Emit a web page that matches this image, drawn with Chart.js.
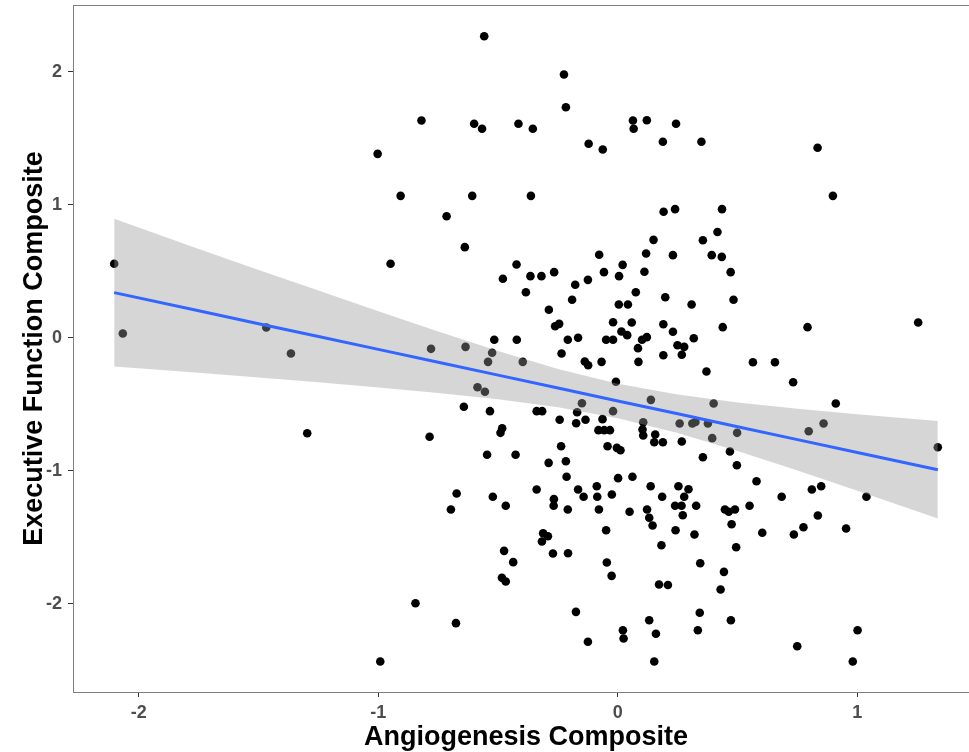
<!DOCTYPE html>
<html>
<head>
<meta charset="utf-8">
<script src="https://cdn.jsdelivr.net/npm/chart.js@4.4.1/dist/chart.umd.min.js"></script>
<style>
  html, body { margin: 0; padding: 0; background: #ffffff; overflow: hidden; }
  #wrap { width: 990px; height: 752px; }
</style>
</head>
<body>
<div id="wrap"><canvas id="c" width="990" height="752"></canvas></div>
<script>
// Angiogenesis composite (x) and executive function composite (y), one entry per participant
const angioX = [
  -2.103, -2.067, -1.468, -1.365, -1.297, -0.992, -1.003, -0.558, -0.225, -0.217,
  -0.820, -0.600, -0.567, -0.415, -0.355, 0.063, 0.066, 0.121, 0.188, -0.122,
  -0.063, -0.907, -0.715, -0.608, -0.363, 0.191, 0.243, 0.349, 0.834, 0.898,
  0.239, 0.435, 0.416,
  -0.949, -0.639, -0.423, -0.480, -0.365, -0.319, -0.266, -0.384, -0.288, -0.262,
  -0.245, -0.178, -0.125, -0.191, -0.078, -0.058, 0.020, 0.005, 0.111, 0.118,
  0.149, 0.075, 0.004, 0.042, 0.198, -0.020, 0.058, 0.015, 0.039, 0.190,
  -0.209, -0.166, -0.049, -0.020, 0.101, 0.121, 0.084, -0.235, -0.138, -0.124,
  -0.068, 0.086, 0.190, -0.516, -0.422, -0.780, -0.636, -0.525, -0.542, -0.397,
  -0.008, -0.586, -0.555, -0.150, 0.138, -0.020, -0.170, -0.643, -0.534, -0.339,
  -0.316, -0.243, -0.174, -0.135, -0.064, 0.106, 0.103, 0.106, -0.081, -0.057,
  -0.033, 0.156, 0.152, 0.188, -0.786, -0.483, -0.490, -0.237, -0.043, -0.004,
  0.011, -0.546, -0.427,
  0.355, 0.230, 0.392, 0.434, 0.471, 0.308, 0.483, 0.230, 0.438, 0.317,
  0.249, 0.277, 0.267, 0.370, 0.792, 1.254, 0.564, 0.656, 0.732, 0.910,
  0.400, 0.258, 0.311, 0.324, 0.376, 0.394, 0.498, 0.797, 0.859, 1.336,
  0.267, 0.468,
  -0.289, -0.217, -0.214, 0.001, 0.061, -0.673, -0.697, -0.522, -0.468, -0.339,
  -0.267, -0.268, -0.209, -0.166, -0.143, -0.088, -0.086, -0.079, -0.025, 0.049,
  0.137, 0.185, 0.122, 0.131, 0.145, -0.049, -0.312, -0.292, -0.317, -0.271,
  -0.208, -0.475, -0.437, -0.484, -0.468, -0.046, -0.026, 0.182, 0.172, 0.209,
  -0.845, -0.676, -0.175, -0.125, 0.021, 0.024, 0.131, 0.159, 0.152,
  0.355, 0.497, 0.579, 0.253, 0.295, 0.277, 0.239, 0.266, 0.327, 0.271,
  0.447, 0.463, 0.489, 0.550, 0.475, 0.241, 0.320, 0.494, 0.344, 0.443,
  0.429, 0.342, 0.334, 0.472, 0.684, 0.810, 0.849, 0.835, 0.775, 0.735,
  0.603, 0.953, 1.038, 0.749, 1.001, 0.981
];
const execY = [
  0.557, 0.032, 0.078, -0.118, -0.718, -2.436, 1.384, 2.269, 1.981, 1.735,
  1.635, 1.610, 1.573, 1.610, 1.573, 1.635, 1.573, 1.637, 1.475, 1.460,
  1.417, 1.068, 0.915, 1.068, 1.068, 0.948, 1.610, 1.475, 1.430, 1.068,
  0.968, 0.968, 0.796,
  0.557, 0.682, 0.552, 0.444, 0.464, 0.464, 0.494, 0.343, 0.211, 0.087,
  0.105, 0.399, 0.436, 0.286, 0.625, 0.494, 0.549, 0.464, 0.497, 0.634,
  0.737, 0.343, 0.251, 0.251, 0.305, 0.117, 0.115, 0.047, 0.020, 0.102,
  -0.015, 0.000, -0.015, -0.015, -0.015, 0.005, -0.078, -0.118, -0.178, -0.206,
  -0.181, -0.181, -0.131, -0.015, -0.015, -0.083, -0.068, -0.113, -0.181, -0.181,
  -0.331, -0.372, -0.406, -0.492, -0.467, -0.552, -0.560, -0.519, -0.552, -0.552,
  -0.552, -0.617, -0.643, -0.617, -0.612, -0.635, -0.690, -0.735, -0.695, -0.695,
  -0.695, -0.728, -0.786, -0.786, -0.745, -0.680, -0.715, -0.816, -0.816, -0.828,
  -0.846, -0.880, -0.880,
  0.734, 0.622, 0.622, 0.609, 0.494, 0.251, 0.286, 0.045, 0.080, -0.003,
  -0.056, -0.068, -0.128, -0.254, 0.080, 0.115, -0.184, -0.184, -0.334, -0.494,
  -0.494, -0.645, -0.645, -0.634, -0.645, -0.755, -0.715, -0.703, -0.645, -0.823,
  -0.780, -0.856,
  -0.941, -0.929, -1.046, -1.056, -1.046, -1.172, -1.292, -1.196, -1.264, -1.141,
  -1.214, -1.264, -1.292, -1.141, -1.196, -1.117, -1.196, -1.292, -1.179, -1.309,
  -1.117, -1.196, -1.292, -1.354, -1.412, -1.448, -1.470, -1.493, -1.533, -1.623,
  -1.621, -1.603, -1.688, -1.806, -1.834, -1.691, -1.791, -1.561, -1.856, -1.860,
  -1.997, -2.147, -2.062, -2.287, -2.200, -2.263, -2.125, -2.227, -2.436,
  -0.899, -0.959, -1.079, -1.117, -1.139, -1.196, -1.264, -1.264, -1.264, -1.335,
  -1.292, -1.309, -1.292, -1.264, -1.403, -1.448, -1.480, -1.576, -1.696, -1.761,
  -1.894, -2.069, -2.200, -2.125, -1.196, -1.141, -1.117, -1.337, -1.425, -1.480,
  -1.467, -1.435, -1.196, -2.321, -2.200, -2.436
];

// Linear fit with its 95% confidence band, sampled along x
const bandX     = [-2.103, -1.75, -1.5, -1.25, -1.0, -0.75, -0.5, -0.25, 0, 0.25, 0.5, 0.75, 1.0, 1.336];
const bandFit   = [0.340, 0.203, 0.106, 0.010, -0.087, -0.184, -0.281, -0.378, -0.475, -0.572, -0.669, -0.766, -0.863, -0.993];
const bandUpper = [0.895, 0.669, 0.511, 0.355, 0.199, 0.047, -0.099, -0.234, -0.345, -0.427, -0.486, -0.533, -0.575, -0.626];
const bandLower = [-0.215, -0.263, -0.299, -0.335, -0.373, -0.415, -0.463, -0.523, -0.605, -0.717, -0.852, -0.999, -1.151, -1.360];

// Axis ticks
const xTicks = [-2, -1, 0, 1];
const yTicks = [-2, -1, 0, 1, 2];

const zip = (xs, ys) => xs.map((x, i) => ({ x: x, y: ys[i] }));

const FONT = "'Liberation Sans', Arial, Helvetica, sans-serif";
Chart.defaults.font.family = FONT;

// Thin frame around the plotting panel
const panelFrame = {
  id: 'panelFrame',
  afterDatasetsDraw(chart) {
    const { ctx, chartArea: a } = chart;
    ctx.save();
    ctx.strokeStyle = '#7f7f7f';
    ctx.lineWidth = 1;
    ctx.strokeRect(Math.round(a.left) + 0.5, Math.round(a.top) + 0.5,
                   Math.round(a.right - a.left), Math.round(a.bottom - a.top));
    ctx.restore();
  }
};

const tickStyle = { color: '#4d4d4d', font: { family: FONT, size: 18, weight: 'bold' } };
const gridStyle = { display: true, drawOnChartArea: false, drawTicks: true, tickLength: 5, tickColor: '#333333', tickWidth: 1 };
const borderStyle = { display: true, color: '#7f7f7f', width: 1 };

new Chart(document.getElementById('c'), {
  type: 'scatter',
  data: {
    datasets: [
      {
        type: 'scatter',
        data: zip(angioX, execY),
        backgroundColor: '#000000',
        borderWidth: 0,
        pointRadius: 4.3,
        pointHoverRadius: 4.3,
        order: 3
      },
      {
        type: 'line',
        data: zip(bandX, bandLower),
        borderColor: 'rgba(0,0,0,0)',
        borderWidth: 0,
        pointRadius: 0,
        fill: false,
        order: 2
      },
      {
        type: 'line',
        data: zip(bandX, bandUpper),
        borderColor: 'rgba(0,0,0,0)',
        borderWidth: 0,
        pointRadius: 0,
        fill: 1,
        backgroundColor: 'rgba(153,153,153,0.4)',
        order: 1
      },
      {
        type: 'line',
        data: zip(bandX, bandFit),
        borderColor: '#3366FF',
        borderWidth: 3,
        pointRadius: 0,
        fill: false,
        order: 0
      }
    ]
  },
  options: {
    responsive: false,
    devicePixelRatio: 1,
    animation: false,
    events: [],
    layout: { padding: { left: 0, top: 5, right: 11, bottom: 0 } },
    plugins: {
      legend: { display: false },
      tooltip: { enabled: false }
    },
    scales: {
      x: {
        type: 'linear',
        min: -2.275,
        max: 1.508,
        afterBuildTicks: s => { s.ticks = xTicks.map(v => ({ value: v })); },
        afterFit: s => { s.height = 60; s.paddingLeft = 0; s.paddingRight = 0; },
        grid: gridStyle,
        border: borderStyle,
        ticks: Object.assign({ padding: 5, maxRotation: 0, autoSkip: false, callback: v => String(v) }, tickStyle),
        title: {
          display: true,
          text: 'Angiogenesis Composite',
          color: '#000000',
          font: { family: FONT, size: 27, weight: 'bold', lineHeight: 1 },
          padding: { top: 0, bottom: 1 }
        }
      },
      y: {
        type: 'linear',
        min: -2.665,
        max: 2.504,
        afterBuildTicks: s => { s.ticks = yTicks.map(v => ({ value: v })); },
        afterFit: s => { s.width = 73; s.paddingTop = 0; s.paddingBottom = 0; },
        grid: gridStyle,
        border: borderStyle,
        ticks: Object.assign({ padding: 6, autoSkip: false, callback: v => String(v) }, tickStyle),
        title: {
          display: true,
          text: 'Executive Function Composite',
          color: '#000000',
          font: { family: FONT, size: 27, weight: 'bold', lineHeight: 1 },
          padding: { top: 21, bottom: 0 }
        }
      }
    }
  },
  plugins: [panelFrame]
});
</script>
</body>
</html>
